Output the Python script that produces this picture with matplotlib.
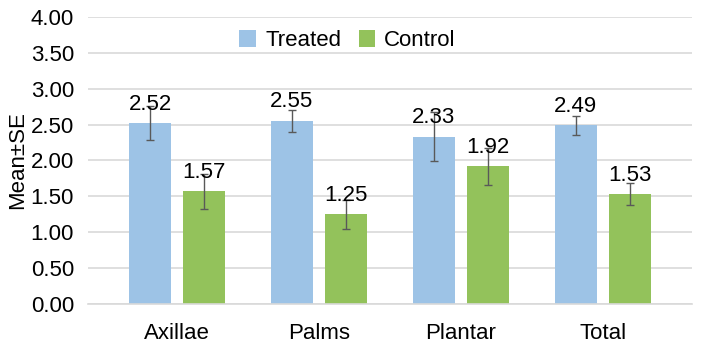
import numpy as np
import matplotlib.pyplot as plt

plt.rcParams['font.family'] = ['Liberation Sans', 'DejaVu Sans']

# --- Data ---
categories = ['Axillae', 'Palms', 'Plantar', 'Total']
treated = [2.52, 2.55, 2.33, 2.49]
control = [1.57, 1.25, 1.92, 1.53]
treated_se = [0.24, 0.15, 0.34, 0.13]
control_se = [0.245, 0.20, 0.26, 0.15]

blue = '#9DC3E6'
green = '#93C25B'
fs = 16

fig = plt.figure(figsize=(7.01, 3.47), dpi=100)
ax = fig.add_axes([0.1255, 0.124, 0.8615, 0.827])

x = np.arange(len(categories))
w = 0.30
off = 0.19

ax.bar(x - off, treated, w, color=blue, label='Treated', zorder=2)
ax.bar(x + off, control, w, color=green, label='Control', zorder=2)
ax.errorbar(x - off, treated, yerr=treated_se, fmt='none', ecolor='#595959',
            elinewidth=1, capsize=3, capthick=1, zorder=3)
ax.errorbar(x + off, control, yerr=control_se, fmt='none', ecolor='#595959',
            elinewidth=1, capsize=3, capthick=1, zorder=3)

# value labels
for xi, v in zip(x - off, treated):
    ax.text(xi, v + 0.12, f'{v:.2f}', ha='center', va='bottom', fontsize=fs, zorder=4)
for xi, v in zip(x + off, control):
    ax.text(xi, v + 0.12, f'{v:.2f}', ha='center', va='bottom', fontsize=fs, zorder=4)

ax.set_ylim(0, 4)
ax.set_xlim(-0.627, 3.627)
ax.set_yticks(np.arange(0, 4.01, 0.5))
ax.set_yticklabels([f'{t:.2f}' for t in np.arange(0, 4.01, 0.5)])
ax.set_xticks(x)
ax.set_xticklabels(categories)
ax.tick_params(axis='both', length=0, labelsize=fs, colors='black')
ax.tick_params(axis='x', pad=14)
ax.tick_params(axis='y', pad=10)
ax.set_ylabel('Mean±SE', fontsize=fs, labelpad=2)

ax.yaxis.grid(True, color='#D9D9D9', linewidth=1.2, zorder=0)
ax.set_axisbelow(True)
for s in ['top', 'right', 'left']:
    ax.spines[s].set_visible(False)
ax.spines['bottom'].set_color('#D9D9D9')
ax.spines['bottom'].set_linewidth(1.2)

ax.legend(loc='upper center', bbox_to_anchor=(0.43, 0.985), ncol=2, frameon=False,
          fontsize=fs, handlelength=0.75, handleheight=0.75, handletextpad=0.4,
          columnspacing=0.8, borderaxespad=0.0)

fig.savefig('out.png', dpi=100)
